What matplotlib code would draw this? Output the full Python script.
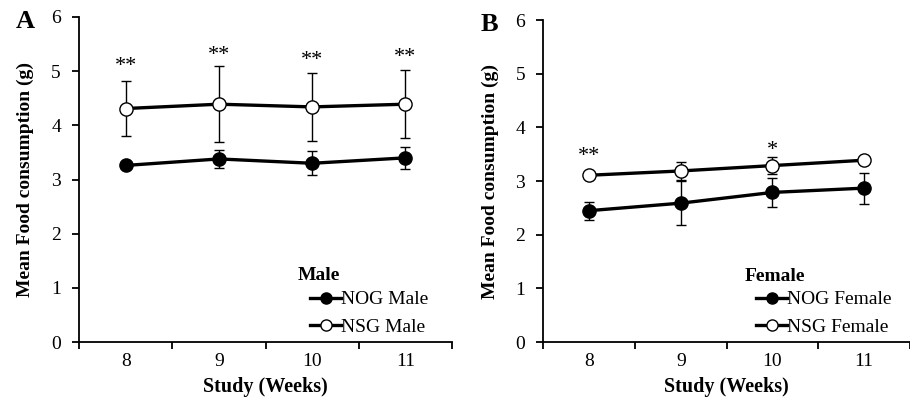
import matplotlib.pyplot as plt
from matplotlib.lines import Line2D
import numpy as np

weeks = ['8', '9', '10', '11']

# Male (panel A)
nog_male = [3.26, 3.38, 3.30, 3.40]
nog_male_err = [0.05, 0.16, 0.22, 0.20]
nsg_male = [4.31, 4.39, 4.34, 4.39]
nsg_male_err = [0.50, 0.70, 0.63, 0.63]
male_stars = ['**', '**', '**', '**']
male_star_y = [5.08, 5.29, 5.19, 5.26]

# Female (panel B)
nog_female = [2.45, 2.59, 2.79, 2.87]
nog_female_err = [0.17, 0.41, 0.27, 0.29]
nsg_female = [3.11, 3.19, 3.29, 3.39]
nsg_female_err = [0.04, 0.16, 0.16, 0.04]
female_stars = ['**', '', '*', '']
female_star_y = [3.45, 0, 3.57, 0]

plt.rcParams['font.family'] = ['Liberation Serif', 'DejaVu Serif']

fig = plt.figure(figsize=(9.1, 4.03), dpi=100)
axA = fig.add_axes([0.0868, 0.151, 0.410, 0.807])
axB = fig.add_axes([0.597, 0.151, 0.403, 0.799])


def draw_panel(ax, nog, nog_err, nsg, nsg_err, stars, star_y, sex, letter,
               leg_x, title_x):
    x = np.arange(len(weeks))
    ax.errorbar(x, nog, yerr=nog_err, color='black', lw=2.4, marker='o',
                ms=9.5, mfc='black', mec='black', ecolor='black', elinewidth=1.0,
                capsize=3.3, capthick=1.0, zorder=3)
    ax.errorbar(x, nsg, yerr=nsg_err, color='black', lw=2.4, marker='o',
                ms=9.5, mfc='white', mec='black', mew=1.0, ecolor='black',
                elinewidth=1.0, capsize=3.3, capthick=1.0, zorder=3)
    for xi, s, yv in zip(x, stars, star_y):
        if s:
            ax.text(xi, yv, s, ha='center', va='center', fontsize=16)
    ax.set_xlim(-0.5, 3.5)
    ax.set_ylim(0, 6)
    ax.set_xticks(np.arange(-0.5, 4.0, 1.0))
    ax.set_xticklabels([])
    ax.set_xticks(x, minor=True)
    ax.set_xticklabels(weeks, minor=True, fontsize=14)
    ax.tick_params(axis='x', which='minor', length=0, pad=8)
    ax.tick_params(axis='x', which='major', direction='out', length=5, width=1.3)
    ax.set_yticks(range(0, 7))
    ax.tick_params(axis='y', direction='out', length=5, width=1.3, labelsize=14,
                   pad=8)
    for side in ['top', 'right']:
        ax.spines[side].set_visible(False)
    for side in ['left', 'bottom']:
        ax.spines[side].set_linewidth(1.3)
    ax.set_xlabel('Study (Weeks)', fontsize=14.5, fontweight='bold', labelpad=5)
    ax.set_ylabel('Mean Food consumption (g)', fontsize=14, fontweight='bold',
                  labelpad=12)
    handles = [
        Line2D([], [], color='black', lw=2.4, marker='o', ms=8, mfc='black'),
        Line2D([], [], color='black', lw=2.4, marker='o', ms=8, mfc='white',
               mew=1.0),
    ]
    ax.legend(handles, ['NOG ' + sex, 'NSG ' + sex], loc='lower left',
              bbox_to_anchor=(leg_x, 0.02), frameon=False, fontsize=14,
              handlelength=1.6, handletextpad=0.0, labelspacing=0.5,
              borderaxespad=0.0, borderpad=0.0)
    ax.text(title_x, 0.205, sex, transform=ax.transAxes, fontsize=14,
            fontweight='bold', ha='left', va='center')
    ax.text(-0.17, 0.985, letter, transform=ax.transAxes, fontsize=19,
            fontweight='bold', ha='left', va='center')


draw_panel(axA, nog_male, nog_male_err, nsg_male, nsg_male_err,
           male_stars, male_star_y, 'Male', 'A', 0.62, 0.586)
draw_panel(axB, nog_female, nog_female_err, nsg_female, nsg_female_err,
           female_stars, female_star_y, 'Female', 'B', 0.58, 0.55)

fig.savefig('out.png', dpi=100)
